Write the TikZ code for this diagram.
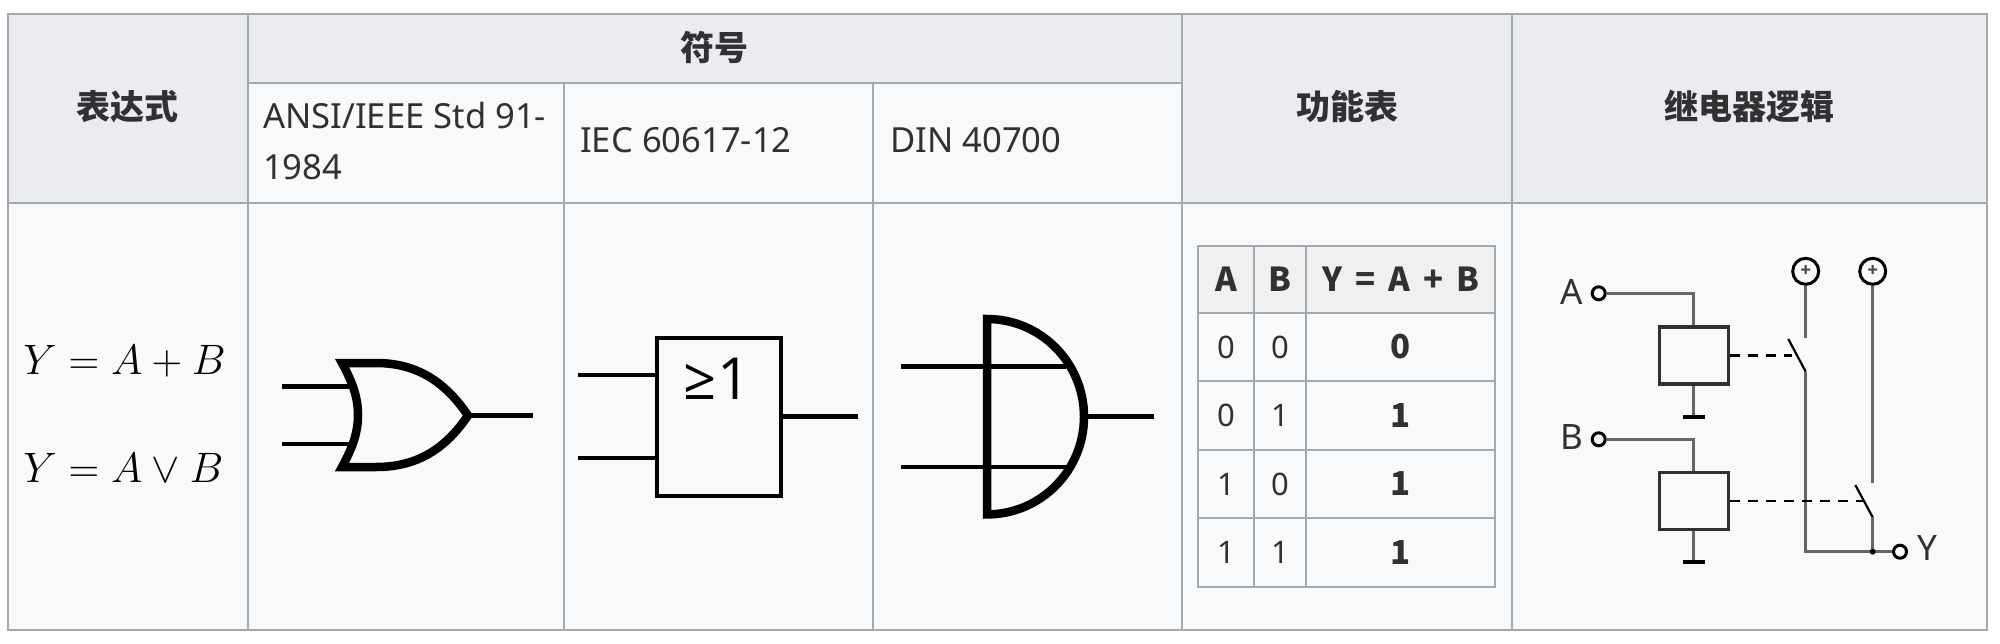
\documentclass[tikz,border=0pt]{standalone}
\usepackage{amsmath}
\usepackage{amssymb}
\usepackage{fontspec}
\setmainfont{Noto Sans}
\newfontfamily\cjk{Noto Sans CJK SC}
\newfontfamily\symfont{Open Sans}
\usepackage{tikz}
\usetikzlibrary{matrix}
\usetikzlibrary{positioning}
\definecolor{headgray}{HTML}{EAECF0}
\definecolor{bodygray}{HTML}{F8F9FA}
\definecolor{rulegray}{HTML}{A2A9B1}
\definecolor{inkgray}{HTML}{303132}
\definecolor{wiregray}{HTML}{666666}
\newcommand{\fs}[1]{\fontsize{#1}{#1}\selectfont}
\newcommand{\widesp}{\spaceskip 13pt\relax}
\tikzset{
	headtext/.style={font=\cjk\bfseries\fs{34}, text=inkgray, inner sep=0pt},
	celltext/.style={font=\fs{34.6}, text=inkgray, inner sep=0pt, anchor=west},
	mathtext/.style={font=\fs{33}, scale=1.71, inner sep=0pt, anchor=west},
	gateline/.style={line width=4.6pt},
	wire/.style={draw=wiregray, line width=3.2pt},
	coil/.style={draw=inkgray, line width=3.6pt, fill=bodygray, minimum width=69pt, minimum height=57pt, inner sep=0pt},
	gndbar/.style={fill=black, minimum width=22pt, minimum height=4pt, inner sep=0pt},
	inpin/.style={circle, draw=black, line width=3pt, fill=bodygray, minimum size=13pt, inner sep=0pt},
	supply/.style={circle, draw=black, line width=3pt, fill=bodygray, minimum size=26pt, inner sep=0pt, text=black!70, font=\cjk\bfseries\fs{17}},
	pinlabel/.style={font=\fs{35}, text=inkgray, inner sep=0pt},
	linkline/.style={black, line width=2.6pt, dash pattern=on 10pt off 8pt},
}
\begin{document}
\begin{tikzpicture}[x=1pt, y=-1pt]
	\useasboundingbox (0,0) rectangle (2000,643);
	\fill[white] (0,0) rectangle (2000,643);
	\fill[bodygray] (8.3,14) rectangle (1987,630);
	\fill[headgray] (8.3,14) rectangle (1987,203);
	\fill[bodygray] (248,83) rectangle (1182,203);
	\draw[rulegray, line width=2pt] (8.3,14) rectangle (1987,630);
	\draw[rulegray, line width=2pt] (8.3,203) -- (1987,203) (248,83) -- (1182,83);
	\foreach \x in {248,1182,1511.5} {
		\draw[rulegray, line width=2pt] (\x,14) -- (\x,630);
	}
	\foreach \x in {564,873} {
		\draw[rulegray, line width=2pt] (\x,83) -- (\x,630);
	}
	\node[headtext] (exprhead) at (127.5,107) {表达式};
	\node[headtext] (symhead) at (714,47) {符号};
	\node[headtext] (funchead) at (1347,107) {功能表};
	\node[headtext] (relayhead) at (1749,107) {继电器逻辑};
	\node[celltext] (ansi) at (263,116) {ANSI/IEEE Std 91-};
	\node[celltext] (ansiyear) at (263,167) {1984};
	\node[celltext] (iec) at (580,140) {IEC 60617-12};
	\node[celltext] (din) at (890,140) {DIN 40700};
	\node[mathtext] (exprplus) at (23,361) {$Y = A + B$};
	\node[mathtext] (expror) at (23,468) {$Y = A \vee B$};

	\coordinate (orA) at (282,386.5);
	\coordinate (orB) at (282,444);
	\coordinate (orOut) at (533,415.5);
	\draw[gateline] (orA) -- (352,386.5);
	\draw[gateline] (orB) -- (352,444);
	\draw[gateline] (468,415.5) -- (orOut);
	\draw[line width=8.5pt, miter limit=8] (342,363) -- (376,363) .. controls (418,363) and (446,383) .. (468,415.5) .. controls (446,448) and (418,467) .. (376,467) -- (342,467) .. controls (353,447) and (358,432) .. (358,415) .. controls (358,398) and (353,383) .. cycle;

	\node[draw, line width=3.6pt, minimum width=124pt, minimum height=158pt, inner sep=0pt] (iecbox) at (719,417) {};
	\node[font=\symfont\fs{58}, inner sep=0pt] (ieclabel) at (717,379) {≥1};
	\coordinate (iecA) at (578,375);
	\coordinate (iecB) at (578,458);
	\coordinate (iecOut) at (858,416.5);
	\draw[gateline] (iecA) -- (iecA -| iecbox.west);
	\draw[gateline] (iecB) -- (iecB -| iecbox.west);
	\draw[gateline] (iecbox.east |- iecOut) -- (iecOut);

	\coordinate (dinA) at (901,366.7);
	\coordinate (dinB) at (901,467);
	\coordinate (dinOut) at (1154,416.7);
	\draw[gateline] (dinA) -- (1066,366.7);
	\draw[gateline] (dinB) -- (1066,467);
	\draw[gateline] (1086,416.7) -- (dinOut);
	\draw[line width=8.5pt, miter limit=8] (987,319) .. controls (1040.6,319) and (1084,362.7) .. (1084,416.7) .. controls (1084,470.7) and (1040.6,514.4) .. (987,514.4) -- cycle;

	\matrix (truth) [matrix of nodes, anchor=north west, inner sep=0pt, row sep=-2pt, column sep=-2pt,
		nodes={draw=rulegray, line width=2pt, anchor=center, inner sep=0pt, minimum height=68.5pt, text=inkgray, fill=bodygray},
		column 1/.style={nodes={minimum width=56pt, font=\fs{31}}},
		column 2/.style={nodes={minimum width=52pt, font=\fs{31}}},
		column 3/.style={nodes={minimum width=189pt, font=\cjk\bfseries\fs{33}\widesp}},
		row 1/.style={nodes={fill=black!6, font=\cjk\bfseries\fs{33}\widesp, minimum height=66.5pt}}] at (1197,245) {
		A & B & Y = A + B \\
		0 & 0 & 0 \\
		0 & 1 & 1 \\
		1 & 0 & 1 \\
		1 & 1 & 1 \\
	};

	\node[inpin] (inA) at (1598.7,293.3) {};
	\node[inpin] (inB) at (1598.7,439.3) {};
	\node[coil] (coilA) at (1693.8,355.3) {};
	\node[coil] (coilB) at (1693.8,501) {};
	\node[gndbar] (gndA) at (1693.8,417) {};
	\node[gndbar] (gndB) at (1693.8,562.3) {};
	\node[supply] (plusA) at (1805.7,271.3) {+};
	\node[supply] (plusB) at (1872.7,271.3) {+};
	\node[inpin] (outY) at (1900,551.7) {};
	\node[pinlabel] (labA) at (1571.7,291.7) {A};
	\node[pinlabel] (labB) at (1571.7,436.7) {B};
	\node[pinlabel] (labY) at (1927.7,548.3) {Y};
	\coordinate (contactA) at (1805.7,338.3);
	\coordinate (contactB) at (1872.7,483.3);
	\coordinate (bladeA) at (1788.3,339);
	\coordinate (bladeB) at (1855.3,485);
	\coordinate (hingeA) at (1805.7,371.7);
	\coordinate (hingeB) at (1872.7,517.3);
	\coordinate (tapA) at (1791.7,355.3);
	\coordinate (tapB) at (1863.3,501);
	\coordinate (join) at (1872.7,551.7);
	\coordinate (bend) at (1805.7,551.7);

	\draw[wire] (inA) -| (coilA.north);
	\draw[wire] (inB) -| (coilB.north);
	\draw[wire] (coilA) -- (gndA);
	\draw[wire] (coilB) -- (gndB);
	\draw[wire] (plusA) -- (contactA);
	\draw[wire] (plusB) -- (contactB);
	\draw[black, line width=2.2pt] (bladeA) -- (hingeA);
	\draw[black, line width=2.2pt] (bladeB) -- (hingeB);
	\draw[wire] (hingeA) -- (bend) -- (outY);
	\draw[wire] (hingeB) -- (join);
	\draw[linkline] (coilA.east) -- (tapA);
	\draw[linkline] (coilB.east) -- (tapB);
	\fill[black] (join) circle (3pt);
\end{tikzpicture}
\end{document}
